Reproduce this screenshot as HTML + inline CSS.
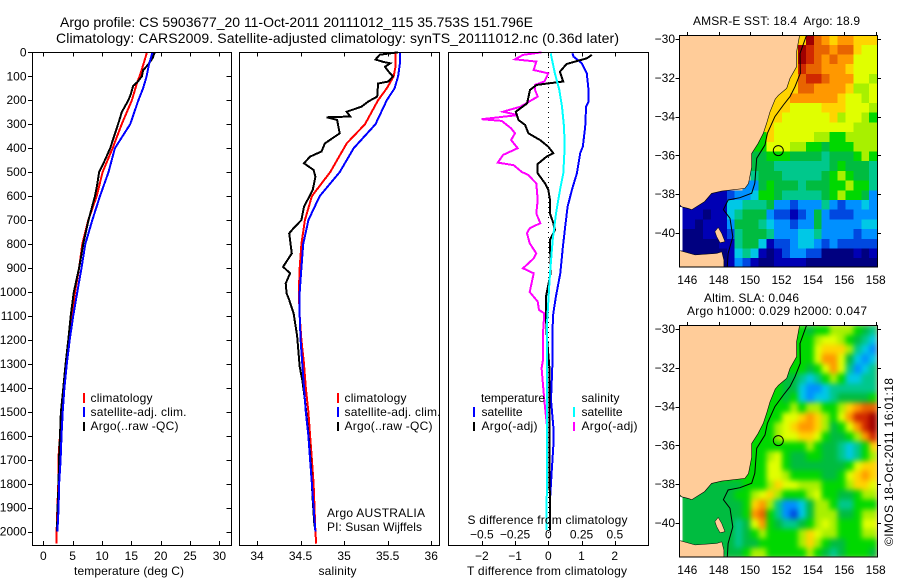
<!DOCTYPE html>
<html>
<head>
<meta charset="utf-8">
<title>Argo profile</title>
<style>
html,body{margin:0;padding:0;background:#fff;}
svg{display:block;}
text{font-family:"Liberation Sans",sans-serif;font-size:12px;fill:#000;white-space:pre;}
</style>
</head>
<body>
<svg id="fig" xmlns="http://www.w3.org/2000/svg" width="900" height="580" viewBox="0 0 900 580">
  <defs>
    <clipPath id="clip-sst"><rect x="679.5" y="35.5" width="198" height="232"/></clipPath>
    <clipPath id="clip-sla"><rect x="679.5" y="325.5" width="198" height="232"/></clipPath>
    <filter id="sla-smooth" filterUnits="userSpaceOnUse" x="660" y="310" width="240" height="270" color-interpolation-filters="sRGB">
      <feGaussianBlur stdDeviation="2.6" edgeMode="duplicate"/>
    </filter>
  </defs>
  <rect x="0" y="0" width="900" height="580" fill="#fff"/>
  <text x="60" y="27" font-size="14" style="font-size:14px" textLength="473">Argo profile: CS 5903677_20 11-Oct-2011 20111012_115 35.753S 151.796E</text>
  <text x="56" y="43" style="font-size:14px" textLength="563">Climatology: CARS2009. Satellite-adjusted climatology: synTS_20111012.nc (0.36d later)</text>

  <g id="layer-sst"></g>
  <g id="layer-sla"></g>
  <g id="layer-plots"></g>

  <text x="129" y="575" text-anchor="middle" textLength="110">temperature (deg C)</text>
  <text x="337.5" y="575" text-anchor="middle" textLength="38">salinity</text>
  <text x="467" y="575" textLength="160">T difference from climatology</text>
  <text x="467.5" y="524" textLength="160">S difference from climatology</text>

  <g>
    <text x="90.5" y="402" textLength="62">climatology</text>
    <text x="90.5" y="416" textLength="96">satellite-adj. clim.</text>
    <text x="90.5" y="430" textLength="88">Argo(..raw -QC)</text>
  </g>
  <g>
    <text x="344.5" y="402" textLength="62">climatology</text>
    <text x="344.5" y="416" textLength="96">satellite-adj. clim.</text>
    <text x="344.5" y="430" textLength="88">Argo(..raw -QC)</text>
    <text x="327" y="517" textLength="98">Argo AUSTRALIA</text>
    <text x="327" y="531" textLength="95">PI: Susan Wijffels</text>
  </g>
  <g>
    <text x="481" y="402" textLength="64">temperature</text>
    <text x="481.5" y="416" textLength="41">satellite</text>
    <text x="481.5" y="430" textLength="56">Argo(-adj)</text>
    <text x="581.5" y="402" textLength="38">salinity</text>
    <text x="581.5" y="416" textLength="41">satellite</text>
    <text x="581.5" y="430" textLength="56">Argo(-adj)</text>
  </g>

  <text x="693" y="25" textLength="167">AMSR-E SST: 18.4  Argo: 18.9</text>
  <text x="704" y="302" textLength="95">Altim. SLA: 0.046</text>
  <text x="687" y="315" textLength="180">Argo h1000: 0.029 h2000: 0.047</text>
  <text transform="rotate(-90 893 546)" x="893" y="546" textLength="168">©IMOS 18-Oct-2011 16:01:18</text>
</svg>

<script>
/* ---------- profile data (depth in dbar) ---------- */
const tClimDepth = [0,50,100,125,200,300,400,500,600,700,800,900,1000,1100,1200,1300,1400,1500,1600,1700,1800,1900,2000,2050];
const tClimValue = [17.67,17.05,16.4,16.0,15.1,13.35,11.8,10.1,9.1,7.67,6.65,6.1,5.4,4.83,4.4,3.8,3.4,3.07,2.84,2.56,2.56,2.4,2.27,2.27];
const tSatDepth = [0,50,100,150,200,300,400,500,600,700,800,900,1000,1100,1200,1300,1400,1500,1600,1700,1800,1900,2000];
const tSatValue = [18.6,18,17.6,17,16.2,14.8,12.2,11.1,9.66,8.35,7.16,6.5,5.8,5.1,4.5,4,3.6,3.3,3.1,2.95,2.7,2.6,2.4];
const tArgoDepth = [0,25,50,75,100,125,140,175,200,250,280,325,400,450,500,550,600,700,800,900,1000,1100,1200,1300,1400,1500,1600,1700,1800,1900,2000];
const tArgoValue = [19,18.6,17.9,17,16.8,16,15.3,14.9,14.5,13.35,13,12.4,11.4,10.5,9.5,9.2,8.8,7.7,6.8,6.1,5.2,4.66,4.26,3.8,3.4,3,2.84,2.67,2.6,2.44,2.33];

const sClimDepth = [0,60,100,150,200,300,380,500,600,700,800,900,1000,1100,1200,1300,1400,1500,1600,1700,1800,1900,2000,2050];
const sClimValue = [35.59,35.59,35.57,35.49,35.39,35.24,35.03,34.84,34.63,34.55,34.51,34.49,34.48,34.49,34.51,34.54,34.56,34.59,34.61,34.63,34.65,34.66,34.67,34.68];
const sSatDepth = [0,50,100,150,200,300,400,500,600,700,800,900,1000,1100,1200,1300,1400,1500,1600,1700,1800,1900,2000];
const sSatValue = [35.64,35.64,35.62,35.58,35.49,35.36,35.11,34.95,34.72,34.59,34.53,34.51,34.49,34.49,34.5,34.52,34.54,34.56,34.59,34.61,34.63,34.65,34.67];
const sArgoDepth = [0,10,30,40,46,60,80,100,122,130,185,205,227,248,268,271,282,338,380,414,435,463,491,519,575,644,700,734,755,839,895,922,964,1006,1033,1089,1182,1312,1367,1450,1589,1728,1867,1978];
const sArgoValue = [35.62,35.41,35.36,35.45,35.53,35.47,35.51,35.56,35.51,35.39,35.38,35.28,35.2,35.03,35.07,34.8,34.92,34.95,34.78,34.74,34.61,34.54,34.65,34.67,34.64,34.54,34.51,34.42,34.37,34.4,34.3,34.38,34.33,34.34,34.37,34.42,34.46,34.49,34.52,34.55,34.59,34.62,34.64,34.66];

const dtSatDepth = [4,18,46,88,157,206,227,310,394,421,505,574,644,727,811,922,1019,1089,1172,1311,1450,1561,1645,1756,1867,1992];
const dtSatValue = [0.73,0.76,1.01,1.16,1.21,1.21,1.14,1.11,1.04,0.96,0.86,0.71,0.58,0.51,0.44,0.36,0.23,0.15,0.12,0.12,0.08,0.15,0.15,0.1,0.05,0.05];
const dtArgoDepth = [11,25,49,81,122,136,157,213,248,282,303,338,366,394,421,435,466,505,547,574,616,672,713,741,783,922,1019,1103,1172,1311,1450,1589,1756,1867,1992];
const dtArgoValue = [1.31,1.16,0.55,0.35,0.45,-0.35,-0.55,-0.64,-0.98,-0.9,-0.7,-0.6,-0.25,0,0.15,-0.05,-0.32,-0.32,-0.1,0,0.05,0.05,0.15,0.2,0.05,0.07,-0.07,-0.07,-0.05,0.03,0.03,0.03,0.03,0.05,0.05];

const dsSatDepth = [4,88,157,227,310,394,505,574,672,783,922,1117,1172,1450,1992];
const dsSatValue = [0.018,0.05,0.083,0.103,0.118,0.123,0.113,0.088,0.058,0.033,0.013,-0.008,-0.008,-0.008,-0.013];
const dsArgoDepth = [0,11,29,39,74,88,122,136,157,185,227,248,262,279,286,317,338,366,400,428,460,471,499,512,547,616,672,713,734,755,797,839,860,901,922,1000,1040,1075,1089,1172,1283,1318,1450,1561];
const dsArgoValue = [-0.05,-0.19,-0.25,-0.09,-0.11,0,-0.03,-0.1,-0.1,-0.08,-0.21,-0.34,-0.23,-0.5,-0.35,-0.28,-0.25,-0.28,-0.23,-0.34,-0.38,-0.26,-0.2,-0.15,-0.09,-0.08,-0.09,-0.06,-0.14,-0.16,-0.14,-0.09,-0.11,-0.19,-0.11,-0.14,-0.08,-0.07,-0.03,-0.04,-0.04,-0.05,-0.03,-0.01];

/* ---------- tick labels ---------- */
const depthTicks = [0,100,200,300,400,500,600,700,800,900,1000,1100,1200,1300,1400,1500,1600,1700,1800,1900,2000];
const tempTicks = [0,5,10,15,20,25,30];
const salTicks = [34,34.5,35,35.5,36];
const dtTicks = [-2,-1,0,1,2];
const dsTicks = [-0.5,-0.25,0,0.25,0.5];
const lonTicks = [146,148,150,152,154,156,158];
const latTicks = [-30,-32,-34,-36,-38,-40];

/* ---------- map data: 0.5 degree colour classes, -1 = land ---------- */
const sstGrid = [
[-1,-1,-1,-1,-1,-1,-1,-1,-1,-1,-1,-1,-1,-1,-1,10,14,12,11,10,11,11,10,10,10],
[-1,-1,-1,-1,-1,-1,-1,-1,-1,-1,-1,-1,-1,-1,10,14,13,12,12,11,12,12,10,9,9],
[-1,-1,-1,-1,-1,-1,-1,-1,-1,-1,-1,-1,-1,-1,10,14,13,12,11,12,11,11,9,9,9],
[-1,-1,-1,-1,-1,-1,-1,-1,-1,-1,-1,-1,-1,-1,10,13,12,12,11,11,11,10,9,9,9],
[-1,-1,-1,-1,-1,-1,-1,-1,-1,-1,-1,-1,-1,10,10,12,13,13,12,11,11,11,9,9,8],
[-1,-1,-1,-1,-1,-1,-1,-1,-1,-1,-1,-1,10,10,10,12,12,11,11,11,11,10,8,8,9],
[-1,-1,-1,-1,-1,-1,-1,-1,-1,-1,-1,10,10,10,11,11,11,11,11,11,10,9,9,8,9],
[-1,-1,-1,-1,-1,-1,-1,-1,-1,-1,-1,10,10,10,9,9,9,9,10,10,10,9,9,9,8],
[-1,-1,-1,-1,-1,-1,-1,-1,-1,-1,10,10,10,9,9,9,9,9,9,10,8,9,9,8,7],
[-1,-1,-1,-1,-1,-1,-1,-1,-1,-1,10,10,9,9,9,9,9,9,9,9,9,9,8,8,8],
[-1,-1,-1,-1,-1,-1,-1,-1,-1,-1,7,10,9,9,9,9,9,8,8,7,7,8,8,8,8],
[-1,-1,-1,-1,-1,-1,-1,-1,-1,7,7,9,9,9,8,8,7,7,6,7,7,7,8,8,8],
[-1,-1,-1,-1,-1,-1,-1,-1,-1,6,6,7,7,7,6,6,6,6,5,6,6,6,7,8,7],
[-1,-1,-1,-1,-1,-1,-1,-1,-1,6,6,6,5,5,5,5,5,5,5,6,7,6,6,6,5],
[-1,-1,-1,-1,-1,-1,-1,-1,-1,5,6,6,6,5,5,5,5,5,6,7,8,7,6,6,5],
[-1,-1,-1,-1,-1,-1,-1,-1,3,3,6,7,6,6,6,5,6,6,6,7,7,8,7,7,5],
[-1,-1,-1,1,1,1,2,3,3,4,7,7,6,5,5,5,5,5,6,7,8,7,7,6,3],
[1,1,1,1,1,1,4,4,5,5,5,6,3,3,2,3,3,3,5,3,2,3,3,4,3],
[1,1,1,0,1,1,4,5,6,6,6,3,2,2,1,2,3,6,3,2,2,2,3,3,3],
[1,1,0,1,1,1,3,6,6,6,5,4,3,3,2,3,3,6,3,3,3,3,3,4,4],
[0,0,0,1,1,1,2,5,6,6,6,5,3,3,3,4,4,5,3,3,3,3,2,3,3],
[0,0,0,0,0,1,1,5,6,6,4,1,2,2,3,4,4,3,2,3,2,2,2,2,2],
[0,0,0,0,0,0,1,4,5,4,1,0,1,2,3,3,2,2,0,0,0,0,1,0,1],
[-1,-1,-1,-1,-1,0,1,3,2,1,0,0,1,1,1,1,0,0,0,0,0,0,0,0,0]
];
const slaGrid = [
[7,7,7,7,7,7,7,7,7,7,7,7,7,7,7,7,6,7,7,8,8,8,7,6,5],
[7,7,7,7,7,7,7,7,7,7,7,7,7,7,7,7,7,8,9,9,8,7,6,5,4],
[7,7,7,7,7,7,7,7,7,7,7,7,7,7,7,7,7,9,10,10,10,8,5,4,3],
[7,7,7,7,7,7,7,7,7,7,7,7,7,7,7,7,7,9,11,11,9,6,4,3,4],
[7,7,7,7,7,7,7,7,7,7,7,7,7,7,7,7,6,7,9,11,9,5,3,4,5],
[7,7,7,7,7,7,7,7,7,7,7,7,7,6,6,5,4,5,7,8,7,4,4,5,5],
[7,7,7,7,7,7,7,7,7,7,7,7,7,6,6,4,3,3,4,5,5,5,5,5,5],
[7,7,7,7,7,7,7,7,7,7,7,7,7,6,7,4,3,4,4,5,6,6,6,6,7],
[7,7,7,7,7,7,7,7,7,7,7,7,7,7,8,7,8,8,7,7,8,10,11,12,12],
[7,7,7,7,7,7,7,7,7,7,7,7,7,9,9,10,11,10,8,7,9,11,13,13,14],
[7,7,7,7,7,7,7,7,7,7,7,7,8,9,10,11,11,10,8,6,7,9,11,13,14],
[7,7,7,7,7,7,7,7,7,7,7,7,8,9,9,10,10,9,7,6,6,7,8,11,13],
[7,7,7,7,7,7,7,7,7,7,7,7,7,7,7,7,8,7,6,6,5,4,5,7,10],
[7,7,7,7,7,7,7,7,7,7,7,8,9,7,6,6,7,7,6,6,5,4,5,7,8],
[7,7,7,7,7,7,7,7,7,7,7,9,9,7,6,6,6,6,6,6,6,7,9,10,10],
[7,7,7,7,7,7,7,7,7,7,7,9,9,8,7,7,7,7,6,6,7,9,10,11,10],
[7,7,7,6,6,6,6,6,7,7,7,8,10,9,9,8,8,8,7,7,7,8,10,10,9],
[6,6,6,6,6,6,6,7,7,8,9,10,8,7,7,7,8,9,7,7,6,6,7,8,8],
[6,6,6,6,6,6,6,6,7,10,11,8,5,3,3,4,6,8,8,7,5,5,7,7,7],
[6,6,6,6,6,6,6,6,7,11,12,7,5,3,2,4,6,8,8,8,6,6,7,8,8],
[6,6,6,6,6,6,6,5,6,9,11,7,6,5,5,6,7,8,9,8,7,7,7,9,9],
[6,6,6,6,6,6,6,5,6,7,8,7,7,7,7,8,10,9,8,8,7,7,7,8,8],
[6,6,6,6,6,6,6,5,6,6,7,7,7,7,7,8,10,8,7,6,6,7,7,7,7],
[6,6,6,6,6,6,6,6,7,8,8,7,7,7,7,7,8,7,6,5,6,7,7,7,6]
];
const coastLon = [145.4,145.4,153.18,152.96,152.96,152.54,152.33,151.8,151.6,151.27,151.05,150.84,150.5,150.1,150.1,149.9,149.67,148.2,147.55,147.1,146.28,146.06,145.64,145.4];
const coastLat = [-38.45,-29.7,-29.7,-30.65,-31.43,-32.03,-32.54,-32.9,-33.1,-33.75,-34.35,-34.86,-35.4,-35.9,-36.6,-37.45,-37.7,-37.84,-37.96,-38.38,-38.8,-38.73,-38.65,-38.45];
const tasLon = [145.4,146.5,147.87,148.2,148.33,148.33,145.4];
const tasLat = [-40.88,-41.13,-41.05,-40.97,-41.4,-41.9,-41.9];
const flindersLon = [147.97,148.19,148.4,148.08,147.87,147.76];
const flindersLat = [-39.71,-40.02,-40.45,-40.5,-40.19,-39.93];
const isoLon = [153.6,153.18,153.2,152.86,152.54,152.12,151.58,151.1,150.95,150.42,150.3,150.1,149.35,148.6,148.3,148.72,148.9,148.6,148.55];
const isoLat = [-29.8,-30.74,-31.77,-32.46,-32.97,-33.4,-34,-34.86,-35.46,-36.15,-37.44,-37.95,-38.18,-38.3,-38.8,-39.24,-40.2,-41.05,-41.75];
const floatLon = [151.796];
const floatLat = [-35.753];

/* ---------- colour classes ---------- */
const palette = ['#000080','#0000b4','#0048e0','#0090ff','#00c8e6','#00c88c','#00bc40','#00d800','#a8f000','#e0ff00','#ffd400','#ff9800','#e86400','#d02800','#a00000'];

/* ---------- axis functions ---------- */
const NS = 'http://www.w3.org/2000/svg';
function depthY(d){ return 52.3 + d * 0.2397; }
function tempX(v){ return 43.3 + v * 5.87; }
function salX(v){ return 257 + (v - 34) * 87.1; }
function dtX(v){ return 548.3 + v * 33.2; }
function dsX(v){ return 548.3 + v * 133; }
function lonX(v){ return 687.3 + (v - 146) * 15.7; }
function latY(v, top){ return top + (-30 - v) * 19.4; }

function mk(parent, tag, attrs, name, text){
  const el = document.createElementNS(NS, tag);
  for (const k in attrs) el.setAttribute(k, attrs[k]);
  
  
  if (text !== undefined) el.textContent = text;
  parent.appendChild(el);
  return el;
}
function fmtTick(v){ return String(v).replace('-', '\u2212'); }

const plots = document.getElementById('layer-plots');

function drawSeries(name, depths, values, xFn, color, width){
  const pts = depths.map((d, i) => xFn(values[i]).toFixed(1) + ',' + depthY(d).toFixed(1)).join(' ');
  mk(plots, 'polyline', {points: pts, fill: 'none', stroke: color, 'stroke-width': width, 'shape-rendering': 'crispEdges', 'stroke-linejoin': 'miter'}, name);
}
function line(parent, x1, y1, x2, y2, name){
  mk(parent, 'line', {x1, y1, x2, y2, stroke: '#000', 'stroke-width': 1, 'shape-rendering': 'crispEdges'}, name);
}
function frame(parent, x, y, w, h, name){
  mk(parent, 'rect', {x, y, width: w, height: h, fill: 'none', stroke: '#000', 'stroke-width': 1, 'shape-rendering': 'crispEdges'}, name);
}
function xTicks(ticks, xFn, baseline, prefix){
  ticks.forEach(v => {
    const x = Math.round(xFn(v)) + 0.5;
    line(plots, x, 52.5, x, 56.5, prefix + '-top-tick');
    line(plots, x, 541, x, 545.5, prefix + '-bottom-tick');
    mk(plots, 'text', {x: xFn(v), y: baseline, 'text-anchor': 'middle'}, prefix + '-tick-label', fmtTick(v));
  });
}
function legendTick(x, y0, y1, color, name){
  mk(plots, 'rect', {x, y: y0, width: 2, height: y1 - y0, fill: color, 'shape-rendering': 'crispEdges'}, name);
}

/* temperature panel */
drawSeries('temperature-climatology-line', tClimDepth, tClimValue, tempX, '#ff0000', 2);
drawSeries('temperature-argo-line', tArgoDepth, tArgoValue, tempX, '#000000', 2);
drawSeries('temperature-satellite-line', tSatDepth, tSatValue, tempX, '#0000ff', 2);
frame(plots, 32.5, 52.5, 199, 493, 'temperature-panel-frame');
xTicks(tempTicks, tempX, 560, 'temperature');
depthTicks.forEach(d => {
  const y = Math.round(depthY(d)) + 0.5;
  line(plots, 28, y, 32.5, y, 'depth-left-tick');
  line(plots, 226.5, y, 231.5, y, 'depth-right-tick');
  mk(plots, 'text', {x: 26.5, y: depthY(d) + 4, 'text-anchor': 'end'}, 'depth-tick-label', String(d));
});
legendTick(83, 393, 403, '#ff0000', 'legend-swatch-climatology');
legendTick(83, 407, 417, '#0000ff', 'legend-swatch-satellite');
legendTick(83, 422, 431, '#000000', 'legend-swatch-argo');

/* salinity panel */
drawSeries('salinity-climatology-line', sClimDepth, sClimValue, salX, '#ff0000', 2);
drawSeries('salinity-argo-line', sArgoDepth, sArgoValue, salX, '#000000', 2);
drawSeries('salinity-satellite-line', sSatDepth, sSatValue, salX, '#0000ff', 2);
frame(plots, 239.5, 52.5, 200, 493, 'salinity-panel-frame');
xTicks(salTicks, salX, 560, 'salinity');
legendTick(337, 393, 403, '#ff0000', 'legend-swatch-climatology');
legendTick(337, 407, 417, '#0000ff', 'legend-swatch-satellite');
legendTick(337, 422, 431, '#000000', 'legend-swatch-argo');

/* difference panel */
mk(plots, 'line', {x1: 548.5, y1: 52, x2: 548.5, y2: 545, stroke: '#000', 'stroke-width': 1, 'stroke-dasharray': '1 4', 'shape-rendering': 'crispEdges'}, 'zero-difference-line');
drawSeries('t-difference-satellite-line', dtSatDepth, dtSatValue, dtX, '#0000ff', 2);
drawSeries('s-difference-argo-line', dsArgoDepth, dsArgoValue, dsX, '#ff00ff', 2);
drawSeries('t-difference-argo-line', dtArgoDepth, dtArgoValue, dtX, '#000000', 2);
drawSeries('s-difference-satellite-line', dsSatDepth, dsSatValue, dsX, '#00ffff', 2);
frame(plots, 448.5, 52.5, 200, 493, 'difference-panel-frame');
xTicks(dtTicks, dtX, 560, 't-difference');
dsTicks.forEach(v => {
  mk(plots, 'text', {x: dsX(v), y: 538.5, 'text-anchor': 'middle'}, 's-difference-tick-label', fmtTick(v));
});
legendTick(473, 407, 417, '#0000ff', 'legend-swatch-t-satellite');
legendTick(473, 422, 431, '#000000', 'legend-swatch-t-argo');
legendTick(573, 407, 417, '#00ffff', 'legend-swatch-s-satellite');
legendTick(573, 422, 431, '#ff00ff', 'legend-swatch-s-argo');

/* maps */
const gridLon0 = 145.49, gridLonStep = 0.504, gridLat0 = -29.8, gridLatStep = 0.5;
function geoPts(lons, lats, top){
  return lons.map((v, i) => lonX(v).toFixed(1) + ',' + latY(lats[i], top).toFixed(1)).join(' ');
}
function drawMap(layerId, clipId, grid, top, baseline, bottom, prefix, smoothId){
  const layer = document.getElementById(layerId);
  mk(layer, 'rect', {x: 679.5, y: top - 3.5, width: 198, height: bottom - top + 3.5, fill: '#ffcc99', 'shape-rendering': 'crispEdges'}, prefix + '-land-background');
  const g = mk(layer, 'g', {'clip-path': 'url(#' + clipId + ')'}, prefix + '-map-content');
  const cells = mk(g, 'g', smoothId ? {filter: 'url(#' + smoothId + ')'} : {}, prefix + '-cells');
  grid.forEach((row, r) => {
    row.forEach((c, i) => {
      if (c < 0) return;
      const x0 = lonX(gridLon0 + i * gridLonStep), x1 = lonX(gridLon0 + (i + 1) * gridLonStep);
      const y0 = latY(gridLat0 - r * gridLatStep, top), y1 = latY(gridLat0 - (r + 1) * gridLatStep, top);
      mk(cells, 'rect', {x: x0.toFixed(1), y: y0.toFixed(1), width: (x1 - x0 + 0.4).toFixed(1), height: (y1 - y0 + 0.4).toFixed(1), fill: palette[c], 'shape-rendering': 'crispEdges'}, prefix + '-cell');
    });
  });
  mk(g, 'rect', {x: lonX(145.4), y: latY(-38.65, top), width: lonX(145.68) - lonX(145.4), height: latY(-40.9, top) - latY(-38.65, top), fill: '#fff', 'shape-rendering': 'crispEdges'}, prefix + '-nodata-strip');
  mk(g, 'polygon', {points: geoPts(coastLon, coastLat, top), fill: '#ffcc99', stroke: '#000', 'stroke-width': 0.6}, prefix + '-mainland');
  mk(g, 'polygon', {points: geoPts(tasLon, tasLat, top), fill: '#ffcc99', stroke: '#000', 'stroke-width': 0.5}, prefix + '-tasmania');
  mk(g, 'polygon', {points: geoPts(flindersLon, flindersLat, top), fill: '#ffcc99', stroke: '#000', 'stroke-width': 0.5}, prefix + '-flinders-island');
  mk(g, 'polyline', {points: geoPts(isoLon, isoLat, top), fill: 'none', stroke: '#000', 'stroke-width': 1}, prefix + '-shelf-contour');
  mk(g, 'circle', {cx: lonX(floatLon[0]), cy: latY(floatLat[0], top), r: 5, fill: 'none', stroke: '#000', 'stroke-width': 1}, prefix + '-float-marker');
  frame(layer, 679.5, top - 3.5, 198, bottom - top + 3.5, prefix + '-frame');
  lonTicks.forEach(v => {
    const x = Math.round(lonX(v)) + 0.5;
    line(layer, x, top - 7, x, top - 3.5, prefix + '-lon-tick');
    mk(layer, 'text', {x: lonX(v), y: baseline, 'text-anchor': 'middle'}, prefix + '-lon-label', String(v));
  });
  latTicks.forEach(v => {
    const y = Math.round(latY(v, top)) + 0.5;
    line(layer, 675.5, y, 679.5, y, prefix + '-lat-tick');
    line(layer, 877.5, y, 881, y, prefix + '-lat-tick-right');
    mk(layer, 'text', {x: 675, y: latY(v, top) + 4, 'text-anchor': 'end'}, prefix + '-lat-label', fmtTick(v));
  });
}
drawMap('layer-sst', 'clip-sst', sstGrid, 39, 284, 267, 'sst', null);
drawMap('layer-sla', 'clip-sla', slaGrid, 329, 574, 557, 'sla', 'sla-smooth');
</script>
</body>
</html>
